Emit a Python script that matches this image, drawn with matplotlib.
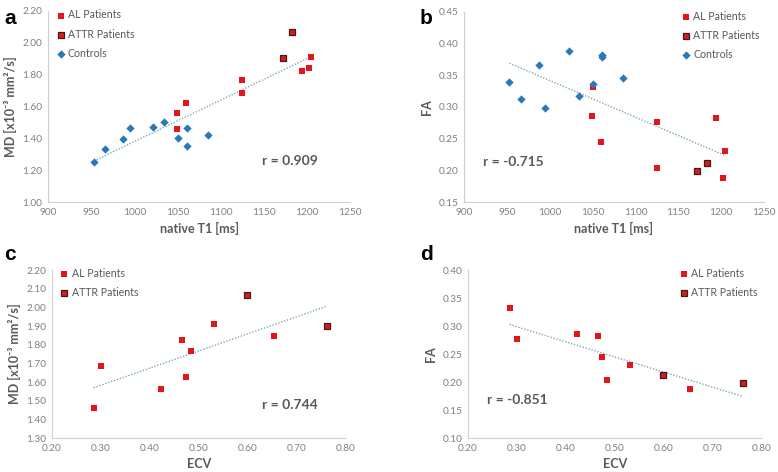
import numpy as np
import matplotlib
matplotlib.use('Agg')
import matplotlib.pyplot as plt

plt.rcParams['font.family'] = ['Lato', 'DejaVu Sans']

# AL patients (one entry per patient)
al_t1 = [1050, 1125, 1049, 1194, 1060, 1125, 1205, 1202]
al_md = [1.460, 1.685, 1.560, 1.825, 1.625, 1.765, 1.910, 1.845]
al_fa = [0.332, 0.277, 0.285, 0.282, 0.244, 0.204, 0.230, 0.188]
al_ecv = [0.285, 0.299, 0.423, 0.465, 0.474, 0.483, 0.531, 0.654]

# ATTR patients
attr_t1 = [1183, 1172]
attr_md = [2.065, 1.902]
attr_fa = [0.212, 0.199]
attr_ecv = [0.598, 0.761]

# controls
ctl_t1 = [953, 966, 987, 995, 1022, 1034, 1051, 1061, 1061, 1086]
ctl_md = [1.249, 1.334, 1.395, 1.462, 1.473, 1.504, 1.403, 1.468, 1.353, 1.424]
ctl_fa = [0.340, 0.313, 0.367, 0.298, 0.389, 0.318, 0.336, 0.379, 0.382, 0.346]

r_vals = ['0.909', '-0.715', '0.744', '-0.851']

RED = '#e3161b'
BLUE = '#2a78b8'
TREND = '#7fa8c4'
LABEL = '#595959'
TICK = '#808080'

fig = plt.figure(figsize=(7.78, 4.72), dpi=100)
axa = fig.add_axes([48/778, 1-202/472, 302/778, 191/472])
axb = fig.add_axes([464/778, 1-202/472, 300/778, 190/472])
axc = fig.add_axes([52/778, 1-438/472, 294/778, 168/472])
axd = fig.add_axes([468/778, 1-438/472, 294/778, 168/472])


def style(ax):
    for s in ['top', 'right']:
        ax.spines[s].set_visible(False)
    for s in ['left', 'bottom']:
        ax.spines[s].set_color('#d0d0d0')
        ax.spines[s].set_linewidth(0.8)
    ax.tick_params(length=0, labelsize=7.3, labelcolor=TICK, pad=4)


def plot_panel(ax, xs_al, ys_al, xs_attr, ys_attr, xs_ctl=None, ys_ctl=None):
    allx = list(xs_al) + list(xs_attr) + (list(xs_ctl) if xs_ctl else [])
    ally = list(ys_al) + list(ys_attr) + (list(ys_ctl) if ys_ctl else [])
    k, b = np.polyfit(allx, ally, 1)
    xx = np.array([min(allx), max(allx)])
    ax.plot(xx, k*xx + b, linestyle=(0, (1, 1.2)), color=TREND, lw=1.0, zorder=1)
    ax.scatter(xs_al, ys_al, marker='s', s=17, color=RED, lw=0, zorder=3, label='AL Patients')
    ax.scatter(xs_attr, ys_attr, marker='s', s=17, color=RED, edgecolor='#3b1f1f', lw=0.9,
               zorder=3, label='ATTR Patients')
    if xs_ctl:
        ax.scatter(xs_ctl, ys_ctl, marker='D', s=18, color=BLUE, lw=0, zorder=3, label='Controls')


plot_panel(axa, al_t1, al_md, attr_t1, attr_md, ctl_t1, ctl_md)
plot_panel(axb, al_t1, al_fa, attr_t1, attr_fa, ctl_t1, ctl_fa)
plot_panel(axc, al_ecv, al_md, attr_ecv, attr_md)
plot_panel(axd, al_ecv, al_fa, attr_ecv, attr_fa)

md_label = 'MD [x10\u207b\u00b3 mm\u00b2/s]'

axa.set_xlim(900, 1250); axa.set_ylim(1.0, 2.2)
axa.set_xticks(np.arange(900, 1251, 50)); axa.set_yticks(np.arange(1.0, 2.21, 0.2))
axa.set_yticklabels(['%.2f' % v for v in np.arange(1.0, 2.21, 0.2)])
axa.set_xlabel('native T1 [ms]', fontweight='bold', color=LABEL, fontsize=9)
axa.set_ylabel(md_label, fontweight='bold', color=LABEL, fontsize=9)

axb.set_xlim(900, 1250); axb.set_ylim(0.15, 0.45)
axb.set_xticks(np.arange(900, 1251, 50)); axb.set_yticks(np.arange(0.15, 0.451, 0.05))
axb.set_yticklabels(['%.2f' % v for v in np.arange(0.15, 0.451, 0.05)])
axb.set_xlabel('native T1 [ms]', fontweight='bold', color=LABEL, fontsize=9)
axb.set_ylabel('FA', fontweight='bold', color=LABEL, fontsize=9)

axc.set_xlim(0.2, 0.8); axc.set_ylim(1.3, 2.2)
axc.set_xticks(np.arange(0.2, 0.81, 0.1)); axc.set_yticks(np.arange(1.3, 2.21, 0.1))
axc.set_xticklabels(['%.2f' % v for v in np.arange(0.2, 0.81, 0.1)])
axc.set_yticklabels(['%.2f' % v for v in np.arange(1.3, 2.21, 0.1)])
axc.set_xlabel('ECV', fontweight='bold', color=LABEL, fontsize=9)
axc.set_ylabel(md_label, fontweight='bold', color=LABEL, fontsize=9)

axd.set_xlim(0.2, 0.8); axd.set_ylim(0.1, 0.4)
axd.set_xticks(np.arange(0.2, 0.81, 0.1)); axd.set_yticks(np.arange(0.1, 0.41, 0.05))
axd.set_xticklabels(['%.2f' % v for v in np.arange(0.2, 0.81, 0.1)])
axd.set_yticklabels(['%.2f' % v for v in np.arange(0.1, 0.41, 0.05)])
axd.set_xlabel('ECV', fontweight='bold', color=LABEL, fontsize=9)
axd.set_ylabel('FA', fontweight='bold', color=LABEL, fontsize=9)

for ax in [axa, axb, axc, axd]:
    style(ax)

r_pos = [(axa, 1180, 1.255), (axb, 957, 0.213), (axc, 0.686, 1.477), (axd, 0.30, 0.168)]
for (ax, x, y), r in zip(r_pos, r_vals):
    ax.text(x, y, 'r = ' + r, ha='center', va='center', fontsize=10,
            fontweight='bold', color=LABEL)

leg_kw = dict(frameon=False, fontsize=7.6, labelcolor=LABEL, handletextpad=0.2,
              labelspacing=0.78, handlelength=1.0, borderaxespad=0.0)
axa.legend(loc='upper left', bbox_to_anchor=(0.01, 1.03), **leg_kw)
axb.legend(loc='upper right', bbox_to_anchor=(1.0, 1.03), **leg_kw)
axc.legend(loc='upper left', bbox_to_anchor=(0.01, 1.04), **leg_kw)
axd.legend(loc='upper right', bbox_to_anchor=(1.0, 1.04), **leg_kw)

for lab, x, y in [('a', 4, 18), ('b', 420, 18), ('c', 4, 254), ('d', 420, 254)]:
    fig.text(x/778, 1 - y/472, lab, fontsize=15, fontweight='bold',
             family=['Liberation Sans', 'DejaVu Sans'], va='center', ha='left')

fig.savefig('out.png', dpi=100)
